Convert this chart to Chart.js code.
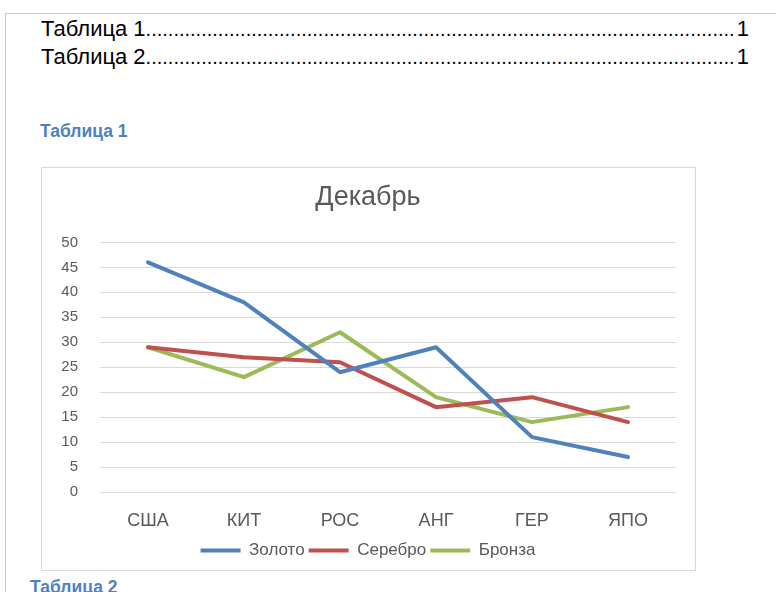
<!DOCTYPE html>
<html lang="ru">
<head>
<meta charset="utf-8">
<script src="https://cdn.jsdelivr.net/npm/chart.js@4.4.1/dist/chart.umd.min.js"></script>
<style>
  html, body { margin: 0; padding: 0; background: #fff; width: 776px; height: 592px; overflow: hidden;
    font-family: "Liberation Sans", Arial, sans-serif; }
  .page { position: absolute; left: 5px; top: 13px; width: 800px; height: 600px;
    border-top: 1px solid #c8c8c8; border-left: 1px solid #c8c8c8; }
  .toc { position: absolute; left: 41px; width: 708px; display: flex; font-size: 22px; line-height: 28px;
    color: #000; white-space: nowrap; }
  .toc .dots { flex: 1; overflow: hidden; font-size: 20px; }
  .toc .num { padding-left: 1px; }
  .heading { position: absolute; font-weight: bold; font-size: 17.5px; line-height: 20px; color: #4f81bd; white-space: nowrap; }
  .chart-box { position: absolute; left: 41px; top: 167px; width: 655px; height: 404px; box-sizing: border-box;
    border: 1px solid #d9d9d9; background: #fff; }
  .chart-box canvas { display: block; }
</style>
</head>
<body>
<div class="page"></div>
<div class="toc" style="top:15px"><span>Таблица 1</span><span class="dots"></span><span class="num">1</span></div>
<div class="toc" style="top:43px"><span>Таблица 2</span><span class="dots"></span><span class="num">1</span></div>
<div class="heading" style="left:40px; top:121px">Таблица 1</div>
<div class="chart-box"><canvas id="chart" width="653" height="402"></canvas></div>
<div class="heading" style="left:30px; top:577px">Таблица 2</div>

<script>
  // dot leaders for the table of contents
  document.querySelectorAll('.toc .dots').forEach(function (el) {
    el.textContent = '.'.repeat(200);
  });

  // medal counts, December
  const categories = ['США', 'КИТ', 'РОС', 'АНГ', 'ГЕР', 'ЯПО'];
  const seriesNames = ['Золото', 'Серебро', 'Бронза'];
  const gold   = [46, 38, 24, 29, 11, 7];
  const silver = [29, 27, 26, 17, 19, 14];
  const bronze = [29, 23, 32, 19, 14, 17];
  const yMin = 0, yMax = 50, yStep = 5;

  const colors = ['#4f81bd', '#c0504d', '#9bbb59'];
  const values = [gold, silver, bronze];
  const FONT = '"Liberation Sans", Arial, sans-serif';
  const TEXT = '#595959';

  const datasets = seriesNames.map(function (name, i) {
    return {
      label: name,
      data: values[i],
      borderColor: colors[i],
      backgroundColor: colors[i],
      borderWidth: 4,
      pointRadius: 0,
      pointHoverRadius: 0,
      tension: 0,
      borderJoinStyle: 'round',
      borderCapStyle: 'round',
      fill: false
    };
  });

  new Chart(document.getElementById('chart'), {
    type: 'line',
    data: { labels: categories, datasets: datasets },
    options: {
      responsive: false,
      animation: false,
      devicePixelRatio: 1,
      layout: { padding: { left: 18, right: 19, top: 13, bottom: 1 } },
      plugins: {
        tooltip: { enabled: false },
        title: {
          display: true,
          text: 'Декабрь',
          color: TEXT,
          font: { family: FONT, size: 27, weight: 'normal' },
          padding: { top: 0, bottom: 29 }
        },
        legend: {
          position: 'bottom',
          labels: {
            boxWidth: 40,
            boxHeight: 4,
            padding: 4,
            color: TEXT,
            font: { family: FONT, size: 17 },
            generateLabels: function (chart) {
              return Chart.defaults.plugins.legend.labels.generateLabels(chart).map(function (item) {
                item.lineWidth = 0;
                item.fillStyle = item.strokeStyle;
                return item;
              });
            }
          }
        }
      },
      scales: {
        x: {
          offset: true,
          grid: { display: false, drawTicks: false },
          border: { display: false },
          ticks: { color: TEXT, font: { family: FONT, size: 18 }, padding: 18 },
          afterFit: function (scale) { scale.height = 46; }
        },
        y: {
          min: yMin,
          max: yMax,
          grid: { color: '#d9d9d9', lineWidth: 1, drawTicks: false },
          border: { display: false },
          ticks: { stepSize: yStep, color: TEXT, font: { family: FONT, size: 15 }, padding: 22 },
          afterFit: function (scale) { scale.width = 40; }
        }
      }
    }
  });
</script>
</body>
</html>
